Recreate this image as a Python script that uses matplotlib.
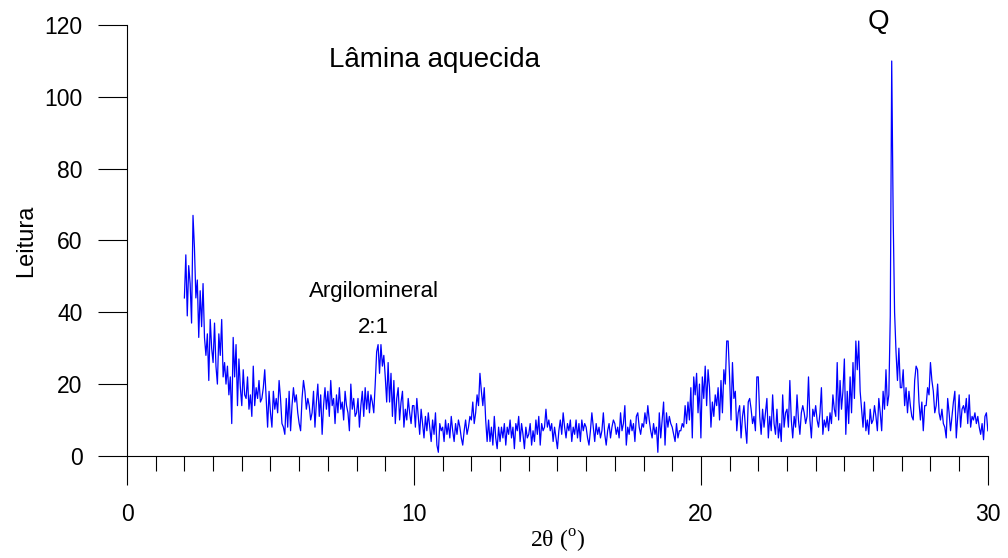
import numpy as np
import matplotlib
matplotlib.use('Agg')
import matplotlib.pyplot as plt
from matplotlib.ticker import MultipleLocator

plt.rcParams['font.family'] = ['Liberation Sans', 'DejaVu Sans']
plt.rcParams['mathtext.fontset'] = 'custom'
plt.rcParams['mathtext.rm'] = 'Liberation Serif'

# difratograma, passo de 0.05 graus (2 a 30)
theta_ini, theta_fim, passo = 2.0, 30.0, 0.05
leitura = [
    # 2-3
    44, 56, 39, 53, 48, 37, 67, 58, 44, 49, 33, 46, 36, 48, 33, 28, 34, 21, 38, 30,
    # 3-4
    26, 37, 25, 20, 34, 28, 38, 22, 26, 20, 25, 17, 22, 9, 33, 22, 31, 14, 27, 19,
    # 4-5
    14, 24, 17, 16, 22, 13, 17, 11, 25, 14, 19, 16, 21, 15, 16, 19, 24, 16, 8, 18,
    # 5-6
    12, 8, 18, 13, 16, 12, 21, 16, 9, 8, 6, 16, 8, 18, 7, 14, 19, 15, 17, 12,
    # 6-7
    9, 7, 16, 21, 18, 13, 16, 14, 10, 12, 18, 8, 15, 20, 11, 17, 6, 14, 19, 13,
    # 7-8
    18, 11, 21, 14, 16, 9, 17, 12, 19, 13, 15, 10, 18, 14, 12, 7, 20, 13, 16, 11,
    # 8-9
    12, 16, 8, 14, 18, 11, 19, 13, 18, 12, 17, 15, 12, 20, 29, 31, 23, 31, 25, 28,
    # 9-10
    22, 15, 26, 15, 23, 11, 21, 9, 16, 19, 10, 15, 18, 8, 13, 10, 16, 12, 9, 14,
    # 10-11
    14, 8, 16, 11, 6, 13, 9, 5, 11, 7, 12, 8, 4, 10, 6, 12, 3, 1, 9, 7,
    # 11-12
    8, 4, 10, 6, 9, 5, 11, 7, 4, 9, 6, 10, 8, 5, 3, 7, 10, 6, 8, 11,
    # 12-13
    10, 15, 9, 12, 17, 14, 23, 18, 14, 19, 10, 4, 10, 4, 8, 3, 11, 5, 2, 8,
    # 13-14
    4, 8, 5, 9, 3, 8, 6, 10, 5, 8, 2, 9, 7, 11, 4, 9, 6, 2, 8, 5,
    # 14-15
    6, 9, 3, 7, 4, 10, 6, 11, 3, 9, 7, 8, 13, 8, 10, 7, 9, 4, 8, 5,
    # 15-16
    2, 7, 10, 6, 12, 8, 5, 9, 7, 10, 4, 8, 6, 10, 5, 9, 4, 10, 7, 9,
    # 16-17
    8, 5, 3, 7, 12, 8, 4, 9, 6, 8, 5, 7, 12, 6, 3, 7, 9, 5, 8, 10,
    # 17-18
    9, 6, 8, 5, 12, 7, 9, 14, 3, 8, 6, 10, 7, 9, 4, 11, 12, 8, 6, 9,
    # 18-19
    8, 12, 9, 14, 10, 7, 5, 9, 6, 8, 1, 12, 5, 10, 15, 3, 12, 8, 11, 9,
    # 19-20
    8, 6, 4, 9, 5, 7, 7, 9, 8, 14, 9, 15, 10, 19, 5, 22, 17, 23, 12, 20,
    # 20-21
    5, 22, 16, 25, 14, 24, 19, 8, 15, 11, 17, 14, 19, 10, 21, 12, 24, 20, 32, 32,
    # 21-22
    22, 10, 26, 16, 18, 7, 12, 14, 5, 11, 14, 8, 3.5, 15, 16, 13, 9, 11, 7, 22,
    # 22-23
    22, 11, 6, 13, 8, 12, 16, 5, 11, 7, 17, 9, 6, 13, 5, 9, 4, 17, 8, 12,
    # 23-24
    13, 8, 21, 10, 5, 11, 8, 17, 10, 6, 12, 14, 12, 9, 11, 22, 10, 5, 13, 11,
    # 24-25
    14, 10, 8, 12, 19, 6, 10, 8, 11, 7, 12, 9, 17, 13, 11, 26, 10, 21, 13, 18,
    # 25-26
    27, 6, 18, 9, 22, 12, 26, 16, 32, 24, 32, 18, 13, 8, 15, 7, 10, 6, 13, 9,
    # 26-27 (pico do quartzo)
    10, 14, 11, 7, 16, 12, 7, 18, 13, 24, 14, 17, 39, 110, 67, 40, 29, 21, 30, 19,
    # 27-28
    19, 24, 14, 19, 12, 18, 14, 11, 10, 21, 25, 24, 15, 10, 15, 7, 14, 14, 19, 17,
    # 28-29
    26, 21, 18, 12, 14, 20, 12, 10, 13, 9, 8, 5, 16, 12, 7, 11, 15, 18, 5, 11,
    # 29-30
    17, 8, 13, 14, 12, 16, 9, 17, 8, 11, 10, 12, 9, 11, 8, 6, 9, 4.5, 11, 12,
    7,
]
two_theta = np.round(np.arange(len(leitura)) * passo + theta_ini, 2)

fig = plt.figure(figsize=(10.08, 5.58), dpi=100)
ax = fig.add_axes([0.126, 0.183, 0.854, 0.772])

ax.plot(two_theta, leitura, color='#0000ff', lw=0.9)

ax.set_xlim(0, 30)
ax.set_ylim(0, 120)
ax.spines['top'].set_visible(False)
ax.spines['right'].set_visible(False)

ax.xaxis.set_major_locator(MultipleLocator(10))
ax.xaxis.set_minor_locator(MultipleLocator(1))
ax.yaxis.set_major_locator(MultipleLocator(20))
ax.tick_params(axis='x', which='major', direction='out', length=21, width=0.8, pad=13, labelsize=16.5)
ax.tick_params(axis='x', which='minor', direction='out', length=10.5, width=0.8)
ax.tick_params(axis='y', which='major', direction='out', length=21, width=0.8, pad=11, labelsize=16.5)

ax.set_ylabel('Leitura', fontsize=17, labelpad=5)
ax.set_xlabel(r'2θ ($^{\rm o}$)', fontsize=17, family=['Liberation Serif', 'DejaVu Serif'], labelpad=1)

ax.text(10.73, 110.2, 'Lâmina aquecida', fontsize=20, ha='center', va='center')
ax.text(26.17, 120.8, 'Q', fontsize=20, ha='center', va='center', clip_on=False)
ax.text(8.6, 45.9, 'Argilomineral', fontsize=16, ha='center', va='center')
ax.text(8.57, 35.9, '2:1', fontsize=16, ha='center', va='center')

fig.savefig('out.png', dpi=100)
